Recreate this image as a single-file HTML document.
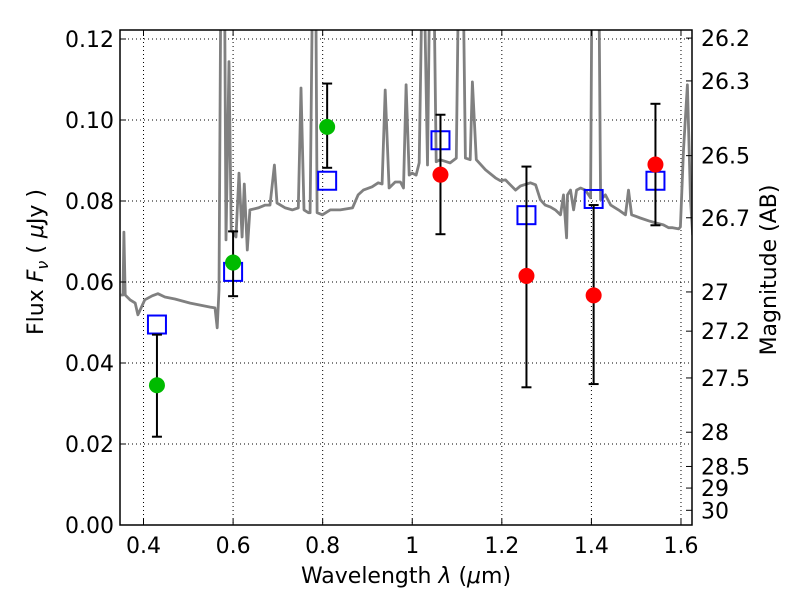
<!DOCTYPE html>
<html><head><meta charset="utf-8"><style>
body{margin:0;background:#fff}
svg{display:block;font-family:"DejaVu Sans","Liberation Sans",sans-serif}
</style></head><body>
<svg id="chart" width="800" height="600" viewBox="0 0 800 600"></svg>
<script>
const specWave=[0.3494,0.3542,0.3562,0.3591,0.3698,0.3815,0.3874,0.4029,0.4195,0.4321,0.4477,0.4701,0.5042,0.5266,0.5490,0.5597,0.5646,0.5685,0.5734,0.5802,0.5841,0.5909,0.5958,0.6065,0.6133,0.6201,0.6250,0.6318,0.6376,0.6561,0.6717,0.6824,0.6922,0.6980,0.7165,0.7321,0.7457,0.7516,0.7584,0.7681,0.7720,0.7788,0.7837,0.7876,0.7993,0.8168,0.8392,0.8665,0.8791,0.8908,0.9103,0.9239,0.9327,0.9395,0.9483,0.9619,0.9736,0.9804,0.9863,0.9931,0.9999,1.0087,1.0155,1.0242,1.0340,1.0408,1.0466,1.0535,1.0622,1.0846,1.0983,1.1051,1.1119,1.1187,1.1294,1.1343,1.1431,1.1635,1.1859,1.1966,1.2083,1.2190,1.2307,1.2414,1.2638,1.2755,1.2862,1.2969,1.3086,1.3193,1.3310,1.3378,1.3447,1.3466,1.3534,1.3602,1.3670,1.3758,1.3865,1.3982,1.4021,1.4157,1.4206,1.4313,1.4430,1.4605,1.4761,1.4829,1.4898,1.5092,1.5277,1.5433,1.5608,1.5725,1.5813,1.5949,1.5988,1.6056,1.6144,1.6212,1.6261];
const specFlux=[0.0568,0.0568,0.0723,0.0568,0.0556,0.0548,0.0519,0.0556,0.0566,0.0571,0.0563,0.0558,0.0548,0.0543,0.0538,0.0536,0.0487,0.0580,0.15,0.15,0.0704,0.1144,0.0729,0.0711,0.0869,0.0711,0.0842,0.0679,0.0778,0.0783,0.0790,0.0790,0.0889,0.0795,0.0783,0.0778,0.0783,0.1079,0.0778,0.0771,0.0771,0.15,0.15,0.0771,0.0766,0.0778,0.0778,0.0783,0.0815,0.0827,0.0835,0.0845,0.0842,0.1074,0.0832,0.0847,0.0847,0.0832,0.1087,0.0864,0.0869,0.0864,0.0894,0.15,0.0889,0.15,0.15,0.0897,0.0902,0.0894,0.0906,0.15,0.15,0.0906,0.0902,0.1094,0.0902,0.0877,0.0857,0.0850,0.0852,0.0840,0.0827,0.0837,0.0845,0.0840,0.0803,0.0790,0.0785,0.0778,0.0766,0.0815,0.0709,0.0815,0.0827,0.0778,0.0827,0.0832,0.0827,0.0808,0.15,0.15,0.0803,0.0815,0.0790,0.0778,0.0766,0.0827,0.0766,0.0758,0.0751,0.0746,0.0741,0.0734,0.0734,0.0731,0.0736,0.0926,0.1087,0.0803,0.0716];
const photWave=[0.430,0.600,0.810,1.063,1.255,1.405,1.543];
const photFlux=[0.0345,0.0648,0.0983,0.0865,0.0615,0.0567,0.0890];
const errLow=[0.0218,0.0565,0.0882,0.0718,0.0340,0.0348,0.0740];
const errHigh=[0.0470,0.0725,0.1090,0.1013,0.0885,0.0790,0.1040];
const photColor=['#00bb00','#00bb00','#00bb00','#ff0000','#ff0000','#ff0000','#ff0000'];
const modelFlux=[0.0495,0.0625,0.0850,0.0950,0.0765,0.0805,0.0850];
const xTicks=[0.4,0.6,0.8,1.0,1.2,1.4,1.6];
const xTickLabels=['0.4','0.6','0.8','1','1.2','1.4','1.6'];
const yTicks=[0,0.02,0.04,0.06,0.08,0.10,0.12];
const yTickLabels=['0.00','0.02','0.04','0.06','0.08','0.10','0.12'];
const magTicks=[26.2,26.3,26.5,26.7,27,27.2,27.5,28,28.5,29,30];
const magTickLabels=['26.2','26.3','26.5','26.7','27','27.2','27.5','28','28.5','29','30'];

const L=120,R=692,T=30,B=525;
const X0=0.3475,X1=1.6246;
const Y0=0,Y1=(B-T)/4050;
const sx=v=>L+(v-X0)/(X1-X0)*(R-L);
const sy=v=>B-(v-Y0)/(Y1-Y0)*(B-T);
const NS='http://www.w3.org/2000/svg';
const svg=document.getElementById('chart');
function mk(tag,attrs,parent){const e=document.createElementNS(NS,tag);for(const k in attrs)e.setAttribute(k,attrs[k]);(parent||svg).appendChild(e);return e;}

const defs=mk('defs',{});const cp=mk('clipPath',{id:'clip'},defs);mk('rect',{x:L,y:T,width:R-L,height:B-T},cp);

const grid=mk('g',{});


xTicks.forEach(v=>mk('line',{x1:sx(v),x2:sx(v),y1:T,y2:B,stroke:'#000','stroke-width':1,'stroke-dasharray':'1,3'},grid));
yTicks.forEach(v=>mk('line',{x1:L,x2:R,y1:sy(v),y2:sy(v),stroke:'#000','stroke-width':1,'stroke-dasharray':'1,3'},grid));

const pts=specWave.map((w,i)=>sx(w).toFixed(1)+','+sy(specFlux[i]).toFixed(1)).join(' ');
const spec=mk('polyline',{points:pts,fill:'none',stroke:'#808080','stroke-width':2.8,'stroke-linejoin':'round','clip-path':'url(#clip)'});



photWave.forEach((w,i)=>{
  const r=mk('rect',{x:sx(w)-9,y:sy(modelFlux[i])-9,width:18,height:18,fill:'none',stroke:'#0000ff','stroke-width':2});
  
  
});
photWave.forEach((w,i)=>{
  const g=mk('g',{});
  
  
  const x=sx(w);
  mk('line',{x1:x,x2:x,y1:sy(errLow[i]),y2:sy(errHigh[i]),stroke:'#000','stroke-width':2},g);
  mk('line',{x1:x-5,x2:x+5,y1:sy(errLow[i]),y2:sy(errLow[i]),stroke:'#000','stroke-width':2},g);
  mk('line',{x1:x-5,x2:x+5,y1:sy(errHigh[i]),y2:sy(errHigh[i]),stroke:'#000','stroke-width':2},g);
  mk('circle',{cx:x,cy:sy(photFlux[i]),r:8,fill:photColor[i]},g);
});

const fr=mk('rect',{x:L,y:T,width:R-L,height:B-T,fill:'none',stroke:'#000','stroke-width':1.5});



xTicks.forEach((v,i)=>{
  const x=sx(v);
  mk('line',{x1:x,x2:x,y1:B,y2:B-6,stroke:'#000'});
  mk('line',{x1:x,x2:x,y1:T,y2:T+6,stroke:'#000'});
  const t=mk('text',{x:x,y:B+28,'font-size':22,'text-anchor':'middle'});
  t.textContent=xTickLabels[i];
  
  
});
yTicks.forEach((v,i)=>{
  const y=sy(v);
  mk('line',{x1:L,x2:L+6,y1:y,y2:y,stroke:'#000'});
  const t=mk('text',{x:L-6,y:y+8,'font-size':22,'text-anchor':'end'});
  t.textContent=yTickLabels[i];
  
  
});
magTicks.forEach((m,i)=>{
  const y=sy(Math.pow(10,(23.9-m)/2.5));
  mk('line',{x1:R,x2:R-6,y1:y,y2:y,stroke:'#000'});
  const t=mk('text',{x:R+9,y:y+8,'font-size':22});
  t.textContent=magTickLabels[i];
  
  
});

const xt=mk('text',{x:406,y:583,'font-size':22,'text-anchor':'middle'});
xt.innerHTML='Wavelength  <tspan font-style="italic">λ</tspan> (<tspan font-style="italic">μ</tspan>m)';
xt.setAttribute('white-space','pre');


const yt=mk('text',{transform:'translate(43,262) rotate(-90)','font-size':22,'text-anchor':'middle'});
yt.innerHTML='Flux  <tspan font-style="italic">F</tspan><tspan font-style="italic" font-size="16" dy="5">ν</tspan><tspan dy="-5">  (  </tspan><tspan font-style="italic">μ</tspan>Jy )';


const rt=mk('text',{transform:'translate(776,270) rotate(-90)','font-size':22,'text-anchor':'middle'});
rt.textContent='Magnitude (AB)';


</script>
</body></html>
